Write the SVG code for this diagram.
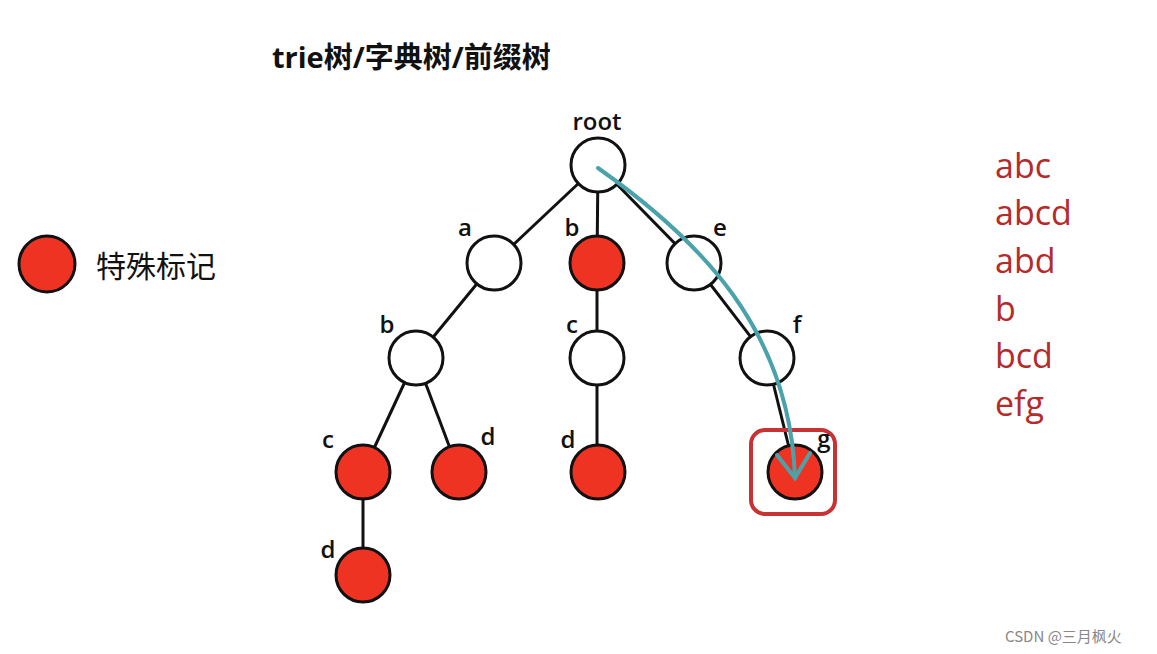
<svg xmlns="http://www.w3.org/2000/svg" width="1157" height="654" viewBox="0 0 1157 654">
<style>
.n{stroke:#111;stroke-width:3;fill:#fff}
.r{fill:#ee3323}
.e{stroke:#111;stroke-width:3}
.l{font-family:"Open Sans","Liberation Sans",sans-serif;font-size:24px;font-weight:600;fill:#111}
.w{font-family:"Open Sans","Liberation Sans",sans-serif;font-size:34px;fill:#b52a2a}
</style>
<rect width="1157" height="654" fill="#fff"/>
<text x="272" y="68" font-family="'Open Sans','Noto Sans CJK SC',sans-serif" font-size="29" font-weight="bold" fill="#111">trie树/字典树/前缀树</text>
<g id="legend"><circle cx="47" cy="264" r="28" class="n r"/><text x="96" y="277" font-family="'Noto Sans CJK SC',sans-serif" font-size="30" fill="#111">特殊标记</text></g>
<g id="edges">
<line class="e" x1="598" y1="165" x2="494" y2="263"/><line class="e" x1="598" y1="165" x2="597" y2="263"/><line class="e" x1="598" y1="165" x2="694" y2="263"/>
<line class="e" x1="494" y1="263" x2="416" y2="358"/><line class="e" x1="416" y1="358" x2="363" y2="472"/><line class="e" x1="416" y1="358" x2="459" y2="472"/>
<line class="e" x1="363" y1="472" x2="363" y2="575"/><line class="e" x1="597" y1="263" x2="597" y2="472"/>
<line class="e" x1="694" y1="263" x2="767" y2="358"/><line class="e" x1="767" y1="358" x2="795" y2="472"/>
</g>
<g id="root"><circle cx="598" cy="165" r="27" class="n"/><text class="l" x="597" y="130" text-anchor="middle">root</text></g>
<g id="a"><circle cx="494" cy="263" r="27" class="n"/><text class="l" x="465" y="236" text-anchor="middle">a</text></g>
<g id="b"><circle cx="597" cy="263" r="27" class="n r"/><text class="l" x="572" y="236" text-anchor="middle">b</text></g>
<g id="e"><circle cx="694" cy="263" r="27" class="n"/><text class="l" x="720" y="236" text-anchor="middle">e</text></g>
<g id="ab"><circle cx="416" cy="358" r="27" class="n"/><text class="l" x="387" y="333" text-anchor="middle">b</text></g>
<g id="bc"><circle cx="597" cy="358" r="27" class="n"/><text class="l" x="572" y="333" text-anchor="middle">c</text></g>
<g id="ef"><circle cx="767" cy="358" r="27" class="n"/><text class="l" x="797" y="333" text-anchor="middle">f</text></g>
<g id="abc"><circle cx="363" cy="472" r="27" class="n r"/><text class="l" x="328" y="448" text-anchor="middle">c</text></g>
<g id="abd"><circle cx="459" cy="472" r="27" class="n r"/><text class="l" x="488" y="445" text-anchor="middle">d</text></g>
<g id="bcd"><circle cx="598" cy="472" r="27" class="n r"/><text class="l" x="568" y="448" text-anchor="middle">d</text></g>
<g id="efg"><circle cx="795" cy="472" r="27" class="n r"/><text class="l" x="824" y="447" text-anchor="middle">g</text><rect x="751" y="430" width="84" height="84" rx="14" fill="none" stroke="#c83232" stroke-width="4"/></g>
<g id="abcd"><circle cx="363" cy="575" r="27" class="n r"/><text class="l" x="328" y="558" text-anchor="middle">d</text></g>
<g id="arrow" fill="none" stroke="#4aa3aa" stroke-width="4" stroke-linecap="round">
<path d="M598 168 C700 240 790 330 795 478"/><path d="M777 455 L795 478 L810 453"/>
</g>
<g id="words">
<text class="w" x="995" y="178">abc</text><text class="w" x="995" y="225">abcd</text><text class="w" x="995" y="273">abd</text>
<text class="w" x="995" y="321">b</text><text class="w" x="995" y="368">bcd</text><text class="w" x="995" y="416">efg</text>
</g>
<text x="1005" y="642" font-family="'Noto Sans CJK SC',sans-serif" font-size="15" fill="#888">CSDN @三月枫火</text>
</svg>
